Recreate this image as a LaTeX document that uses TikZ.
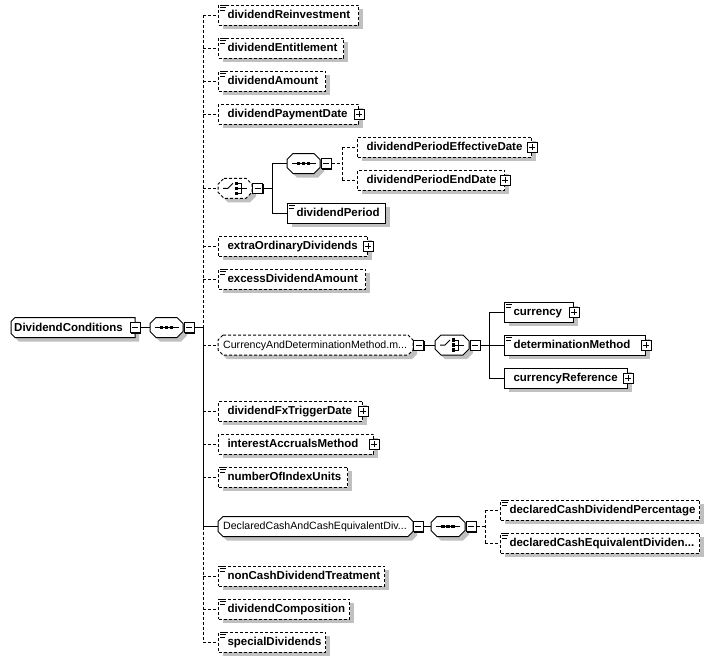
\documentclass[tikz,border=0pt]{standalone}
\usepackage{fontspec}
\setmainfont{Liberation Sans}
\usetikzlibrary{shadows,calc}
\definecolor{shadowgray}{RGB}{192,192,192}
\newcommand\xelfont{\fontsize{11.5pt}{13pt}\selectfont\bfseries}
\newcommand\xgrfont{\fontsize{10.6pt}{12pt}\selectfont}
\tikzset{
  opt/.style={line width=1pt, dash pattern=on 3pt off 2pt},
  req/.style={line width=1pt},
  shd/.style={drop shadow={shadow xshift=4pt, shadow yshift=-4pt, fill=shadowgray, opacity=1}},
  elbox/.style={draw, fill=white, anchor=west, inner xsep=9pt, inner ysep=0pt, minimum height=20pt,
    text height=9pt, text depth=2pt, align=left, font=\xelfont, line width=1pt, shd},
  pmbox/.style={draw, fill=white, line width=1pt, minimum size=10pt, inner sep=0pt,
    drop shadow={shadow xshift=1pt, shadow yshift=-1pt, fill=black, opacity=1}},
  plusbox/.style={pmbox, path picture={\draw[line width=1pt]
    ([xshift=-3pt]path picture bounding box.center) -- ([xshift=3pt]path picture bounding box.center)
    ([yshift=-3pt]path picture bounding box.center) -- ([yshift=3pt]path picture bounding box.center);}},
  minusbox/.style={pmbox, path picture={\draw[line width=1pt]
    ([xshift=-3pt]path picture bounding box.center) -- ([xshift=3pt]path picture bounding box.center);}},
}
% element box: name, L, R, cy, style, text
\newcommand\xel[6]{%
  \pgfmathsetmacro\xtw{#3-#2-18}%
  \node[elbox,#5,text width=\xtw pt] (#1) at (#2,#4) {#6};%
}
% compositor octagon: name, L, R, cy, style
\newcommand\xoct[5]{%
  \fill[shadowgray,transform canvas={shift={(4pt,-4pt)}}] ({#2+6},{#4-10}) -- ({#3-6},{#4-10}) -- (#3,{#4-4}) -- (#3,{#4+4}) -- ({#3-6},{#4+10}) -- ({#2+6},{#4+10}) -- (#2,{#4+4}) -- (#2,{#4-4}) -- cycle;%
  \draw[#5,fill=white] ({#2+6},{#4-10}) -- ({#3-6},{#4-10}) -- (#3,{#4-4}) -- (#3,{#4+4}) -- ({#3-6},{#4+10}) -- ({#2+6},{#4+10}) -- (#2,{#4+4}) -- (#2,{#4-4}) -- cycle;%
  \pgfmathsetmacro\xw{#3-#2}%
  \node[inner sep=0pt,outer sep=0pt,minimum width=\xw pt,minimum height=20pt] (#1) at ({(#2+#3)/2},#4) {};%
}
% group box: name, L, R, cy, style, text
\newcommand\xgrp[6]{%
  \fill[shadowgray,transform canvas={shift={(4pt,-4pt)}}] ({#2+5},{#4-10}) -- ({#3-5},{#4-10}) -- (#3,{#4-5}) -- (#3,{#4+5}) -- ({#3-5},{#4+10}) -- ({#2+5},{#4+10}) -- (#2,{#4+5}) -- (#2,{#4-5}) -- cycle;%
  \draw[#5,fill=white] ({#2+5},{#4-10}) -- ({#3-5},{#4-10}) -- (#3,{#4-5}) -- (#3,{#4+5}) -- ({#3-5},{#4+10}) -- ({#2+5},{#4+10}) -- (#2,{#4+5}) -- (#2,{#4-5}) -- cycle;%
  \pgfmathsetmacro\xtw{#3-#2-10}%
  \node[anchor=west,inner xsep=5pt,inner ysep=0pt,minimum height=20pt,text height=8.5pt,text depth=2pt,text width=\xtw pt,align=left,font=\xgrfont] (#1) at (#2,#4) {#6};%
}
\newcommand\xdoc[1]{\draw[line width=0.8pt] ([xshift=2pt,yshift=-1pt]#1.north west) -- ++(6pt,0pt) ([xshift=2pt,yshift=-3.3pt]#1.north west) -- ++(6pt,0pt) ([xshift=2pt,yshift=-5.6pt]#1.north west) -- ++(5pt,0pt);}
\newcommand\xplus[2]{\node[plusbox] (#1) at (#2.east) {};}
\newcommand\xseqsym[1]{%
  \draw[line width=1pt] ([xshift=-12pt]#1.center) -- ([xshift=12pt]#1.center);%
  \foreach \dx in {-6.75,-1.75,3.25} \fill ([xshift=\dx pt,yshift=-1.75pt]#1.center) rectangle ++(3.5pt,3.5pt);%
}
\newcommand\xchsym[1]{%
  \draw[line width=1pt] ([xshift=-12pt]#1.center) -- ([xshift=-7pt]#1.center) -- ([xshift=-2pt,yshift=5pt]#1.center);%
  \foreach \dy in {3.25,-1.75,-6.75} \fill ([xshift=-0.5pt,yshift=\dy pt]#1.center) rectangle ++(3pt,3.5pt);%
  \draw[line width=1pt] ([xshift=2.5pt,yshift=5pt]#1.center) -- ([xshift=6.5pt,yshift=5pt]#1.center) -- ([xshift=6.5pt,yshift=-5pt]#1.center) -- ([xshift=2.5pt,yshift=-5pt]#1.center);%
  \draw[line width=1pt] ([xshift=2.5pt]#1.center) -- ([xshift=11.5pt]#1.center);%
}
\begin{document}
\begin{tikzpicture}[x=1pt,y=-1pt]
\fill[white] (0,0) rectangle (720,662);
\useasboundingbox (0,0) rectangle (720,662);

% root element
\fill[shadowgray,transform canvas={shift={(4pt,-4pt)}}] (15,317.5) -- (135,317.5) -- (135,337.5) -- (15,337.5) -- (11,333.5) -- (11,321.5) -- cycle;
\draw[req,fill=white] (15,317.5) -- (135,317.5) -- (135,337.5) -- (15,337.5) -- (11,333.5) -- (11,321.5) -- cycle;
\node[anchor=west,inner xsep=3pt,inner ysep=0pt,minimum height=20pt,text height=9pt,text depth=2pt,text width=118pt,align=left,font=\xelfont] (dc) at (11,327.5) {DividendConditions};
\node[minusbox] (mdc) at (dc.east) {};
\xoct{sq0}{150}{183}{327.5}{req}
\xseqsym{sq0}
\node[minusbox] (msq0) at (189,327.5) {};
\coordinate (tr) at (203,327.5);

% children of main sequence
\xel{e1}{218}{358}{15}{opt}{dividendReinvestment}
\xel{e2}{218}{343}{48}{opt}{dividendEntitlement}
\xel{e3}{218}{325}{81}{opt}{dividendAmount}
\xel{e4}{218}{358}{114}{opt}{dividendPaymentDate}
\xplus{pe4}{e4}

\xoct{ch1}{218}{252}{188.25}{opt}
\xchsym{ch1}
\node[minusbox] (mch1) at (257.5,188.25) {};
\xoct{sq1}{287}{320}{163.5}{req}
\xseqsym{sq1}
\node[minusbox] (msq1) at (326,163.5) {};
\xel{e5a}{357}{531}{147}{opt}{dividendPeriodEffectiveDate}
\xplus{pe5a}{e5a}
\xel{e5b}{357}{504}{180}{opt}{dividendPeriodEndDate}
\xplus{pe5b}{e5b}
\xel{e5c}{287}{385}{213}{req}{dividendPeriod}

\xel{e6}{218}{367}{246}{opt}{extraOrdinaryDividends}
\xplus{pe6}{e6}
\xel{e7}{218}{365}{279}{opt}{excessDividendAmount}

\xgrp{g1}{218}{413}{345}{opt}{CurrencyAndDeterminationMethod.m...}
\node[minusbox] (mg1) at (418.5,345) {};
\xoct{ch2}{435}{469}{345}{req}
\xchsym{ch2}
\node[minusbox] (mch2) at (475,345) {};
\xel{cur1}{504}{573}{312}{req}{currency}
\xplus{pcur1}{cur1}
\xel{cur2}{504}{645}{345}{req}{determinationMethod}
\xplus{pcur2}{cur2}
\xel{cur3}{504}{627}{378}{req}{currencyReference}
\xplus{pcur3}{cur3}

\xel{e9}{218}{362}{411}{opt}{dividendFxTriggerDate}
\xplus{pe9}{e9}
\xel{e10}{218}{373}{444}{opt}{interestAccrualsMethod}
\xplus{pe10}{e10}
\xel{e11}{218}{347}{477}{opt}{numberOfIndexUnits}

\xgrp{g2}{218}{413}{526.5}{req}{DeclaredCashAndCashEquivalentDiv...}
\node[minusbox] (mg2) at (418,526.5) {};
\xoct{sq2}{431}{465}{526.5}{req}
\xseqsym{sq2}
\node[minusbox] (msq2) at (471,526.5) {};
\xel{d1}{500}{699}{510}{opt}{declaredCashDividendPercentage}
\xel{d2}{500}{699}{543}{opt}{declaredCashEquivalentDividen...}

\xel{e13}{218}{384}{576}{opt}{nonCashDividendTreatment}
\xel{e14}{218}{349}{609}{opt}{dividendComposition}
\xel{e15}{218}{325}{642}{opt}{specialDividends}

% documentation icons
\foreach \n in {e1,e2,e3,e5c,e7,cur1,cur2,e11,d1,d2,e13,e14,e15} {\xdoc{\n}}

% connectors: root
\draw[req] (mdc) -- (sq0);
\draw[req] (msq0) -- (tr);
\draw[opt] (tr |- e1.west) -- (tr);
\draw[req] (tr) -- (tr |- g2.west);
\draw[opt] (tr |- g2.west) -- (tr |- e15.west);
\foreach \n in {e1,e2,e3,e4,ch1,e6,e7,g1,e9,e10,e11,e13,e14,e15} {\draw[opt] (tr |- \n.west) -- (\n.west);}
\draw[req] (tr |- g2.west) -- (g2.west);

% choice 1
\coordinate (b1) at (272,188.25);
\draw[req] (mch1) -- (b1);
\draw[req] (b1 |- sq1.west) -- (b1 |- e5c.west);
\draw[req] (b1 |- sq1.west) -- (sq1.west);
\draw[req] (b1 |- e5c.west) -- (e5c.west);
\coordinate (b2) at (342,163.5);
\draw[opt] (msq1) -- (b2);
\draw[opt] (b2 |- e5a.west) -- (b2 |- e5b.west);
\draw[opt] (b2 |- e5a.west) -- (e5a.west);
\draw[opt] (b2 |- e5b.west) -- (e5b.west);

% currency group
\coordinate (b3) at (489,345);
\draw[req] (mg1) -- (ch2);
\draw[req] (mch2) -- (b3);
\draw[req] (b3 |- cur1.west) -- (b3 |- cur3.west);
\draw[req] (b3 |- cur1.west) -- (cur1.west);
\draw[req] (b3 |- cur2.west) -- (cur2.west);
\draw[req] (b3 |- cur3.west) -- (cur3.west);

% declared group
\coordinate (b4) at (485,526.5);
\draw[req] (mg2) -- (sq2);
\draw[opt] (msq2) -- (b4);
\draw[opt] (b4 |- d1.west) -- (b4 |- d2.west);
\draw[opt] (b4 |- d1.west) -- (d1.west);
\draw[opt] (b4 |- d2.west) -- (d2.west);
\end{tikzpicture}
\end{document}
